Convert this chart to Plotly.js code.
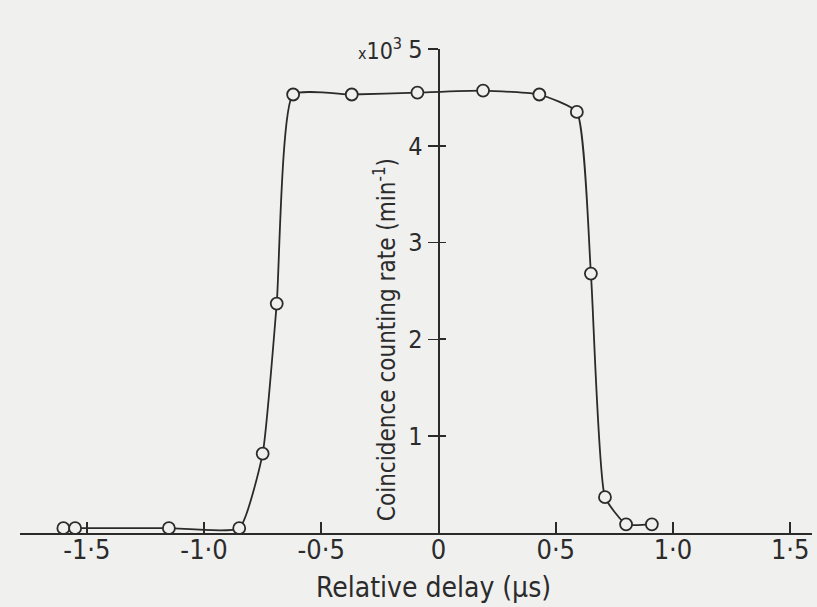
<!DOCTYPE html>
<html><head><meta charset="utf-8">
<script src="https://cdn.plot.ly/plotly-3.0.1.min.js"></script>
<style>html,body{margin:0;padding:0;background:#f0f0ef}</style>
</head><body><div id="chart" style="width:817px;height:607px"></div>
<script>
const delay = [-1.60, -1.55, -1.15, -0.85, -0.75, -0.69, -0.62, -0.37, -0.09, 0.19, 0.43, 0.59, 0.65, 0.71, 0.80, 0.91];
const rate  = [0.05, 0.05, 0.05, 0.05, 0.82, 2.37, 4.53, 4.53, 4.55, 4.57, 4.53, 4.35, 2.68, 0.37, 0.09, 0.09];
const xTickVals = [-1.5, -1.0, -0.5, 0, 0.5, 1.0, 1.5];
const xTickText = ['-1·5', '-1·0', '-0·5', '0', '0·5', '1·0', '1·5'];
const yTickVals = [1, 2, 3, 4, 5];
const yTickText = ['1', '2', '3', '4', '5'];
const xRange = [-1.785, 1.593];
const yRange = [0, 5];
const xTitle = 'Relative delay (μs)';
const yTitle = 'Coincidence counting rate (min<sup>-1</sup>)';
const yScale = '<span style="font-size:16px">x</span>10<sup>3</sup>';

const ink = '#2b2b2b';
const bg = '#f0f0ef';
const font = '"DejaVu Sans Condensed", "Liberation Sans Narrow", "DejaVu Sans", sans-serif';
const yPos = (0 - xRange[0]) / (xRange[1] - xRange[0]);

const trace = {
  x: delay, y: rate, type: 'scatter', mode: 'lines+markers',
  line: {color: ink, width: 1.8, shape: 'spline', smoothing: 0.45},
  marker: {symbol: 'circle', size: 12, color: bg, line: {color: ink, width: 1.8}},
  cliponaxis: false, hoverinfo: 'skip', showlegend: false
};

const layout = {
  width: 817, height: 607,
  paper_bgcolor: bg, plot_bgcolor: bg,
  margin: {l: 20, r: 5, t: 49, b: 74},
  font: {family: font, color: ink, size: 20},
  showlegend: false,
  xaxis: {
    range: xRange, tickvals: xTickVals, ticktext: xTickText,
    showgrid: false, zeroline: false, showline: true, linecolor: ink, linewidth: 2,
    ticks: 'inside', ticklen: 11, tickwidth: 1.6, tickcolor: ink,
    tickfont: {family: font, size: 27, color: ink}, ticklabelstandoff: -8,
    fixedrange: true
  },
  yaxis: {
    range: yRange, tickvals: yTickVals, ticktext: yTickText,
    anchor: 'free', position: yPos,
    showgrid: false, zeroline: false, showline: true, linecolor: ink, linewidth: 2,
    ticks: 'outside', ticklen: 10, tickwidth: 1.6, tickcolor: ink,
    tickfont: {family: font, size: 25, color: ink}, ticklabelstandoff: 0,
    minor: {tickvals: yTickVals.map(v => v + 0.001), ticks: 'inside', ticklen: 6, tickwidth: 1.6, tickcolor: ink, showgrid: false},
    fixedrange: true
  },
  annotations: [
    {text: xTitle, xref: 'x', yref: 'paper', x: -0.02, y: -0.112, xanchor: 'center', yanchor: 'middle',
     showarrow: false, font: {family: font, size: 28, color: ink}},
    {text: yTitle, xref: 'x', yref: 'y', x: -0.225, y: 2.0, textangle: -90, xanchor: 'center', yanchor: 'middle',
     showarrow: false, font: {family: font, size: 24, color: ink}},
    {text: yScale, xref: 'x', yref: 'y', x: -0.25, y: 5, xanchor: 'center', yanchor: 'middle',
     showarrow: false, font: {family: font, size: 23, color: ink}}
  ]
};

Plotly.newPlot('chart', [trace], layout, {staticPlot: true, displayModeBar: false});
</script>
</body></html>
